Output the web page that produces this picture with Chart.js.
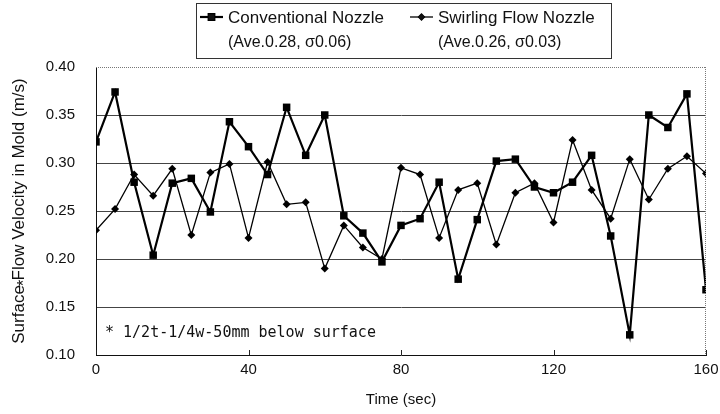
<!DOCTYPE html>
<html>
<head>
<meta charset="utf-8">
<script src="https://cdn.jsdelivr.net/npm/chart.js@4.4.1/dist/chart.umd.min.js"></script>
<style>
    html, body { margin: 0; padding: 0; background: #fff; }
    #box { width: 720px; height: 414px; }
</style>
</head>
<body>
<div id="box"><canvas id="myChart"></canvas></div>
<script>
// tempos de medição (s)
const tempos = [0, 5, 10, 15, 20, 25, 30, 35, 40, 45, 50, 55, 60, 65, 70, 75, 80,
    85, 90, 95, 100, 105, 110, 115, 120, 125, 130, 135, 140, 145, 150, 155, 160];

// velocidade de fluxo (m/s)
const convencional = [0.322, 0.374, 0.280, 0.204, 0.279, 0.284, 0.249, 0.343, 0.317, 0.288,
    0.358, 0.308, 0.350, 0.245, 0.227, 0.197, 0.235, 0.242, 0.280, 0.179, 0.241, 0.302,
    0.304, 0.275, 0.269, 0.280, 0.308, 0.224, 0.121, 0.350, 0.337, 0.372, 0.168];

const swirling = [0.230, 0.252, 0.288, 0.266, 0.294, 0.225, 0.290, 0.299, 0.222, 0.301,
    0.257, 0.259, 0.190, 0.235, 0.212, 0.200, 0.295, 0.288, 0.222, 0.272, 0.279, 0.215,
    0.269, 0.279, 0.238, 0.324, 0.272, 0.242, 0.304, 0.262, 0.294, 0.307, 0.289];

const nomesSeries = ['Conventional Nozzle', 'Swirling Flow Nozzle'];
const estatSeries = ['(Ave.0.28, \u03c30.06)', '(Ave.0.26, \u03c30.03)'];

const ticksX = [0, 40, 80, 120, 160];
const ticksY = [0.10, 0.15, 0.20, 0.25, 0.30, 0.35, 0.40];

const fonte = "'Liberation Sans', Arial, sans-serif";
const tituloY = 'Surface Flow Velocity in Mold (m/s)';

function pontos(valores) {
    let lista = [];
    for (let i = 0; i < tempos.length; i++) {
        lista.push({ x: tempos[i], y: valores[i] });
    }
    return lista;
}

// legenda em caixa, moldura pontilhada e anotação
const extras = {
    id: 'extras',
    afterDraw(chart) {
        const ctx = chart.ctx;
        const area = chart.chartArea;
        const sx = chart.scales.x;
        ctx.save();

        // bordas de cima e da direita pontilhadas
        ctx.strokeStyle = '#777';
        ctx.lineWidth = 1;
        ctx.setLineDash([1, 1]);
        ctx.beginPath();
        ctx.moveTo(area.left, area.top + 0.5);
        ctx.lineTo(area.right, area.top + 0.5);
        ctx.moveTo(area.right - 0.5, area.top);
        ctx.lineTo(area.right - 0.5, area.bottom);
        ctx.stroke();
        ctx.setLineDash([]);

        // marcas pequenas para dentro no eixo x
        ctx.strokeStyle = '#222';
        ctx.beginPath();
        ticksX.forEach((t) => {
            const px = Math.round(sx.getPixelForValue(t)) + 0.5;
            ctx.moveTo(px, area.bottom);
            ctx.lineTo(px, area.bottom - 5);
        });
        ctx.stroke();

        // anotação
        ctx.fillStyle = '#111';
        ctx.font = "15px 'DejaVu Sans Mono', monospace";
        ctx.textBaseline = 'middle';
        ctx.textAlign = 'left';
        ctx.fillText('* 1/2t-1/4w-50mm below surface', area.left + 9, 333);

        // asterisco do título do eixo y, logo depois de "Surface"
        ctx.font = '17px ' + fonte;
        const larguraTotal = ctx.measureText(tituloY).width;
        const larguraPalavra = ctx.measureText('Surface').width;
        const cy = (area.top + area.bottom) / 2;
        const yAst = cy + larguraTotal / 2 - larguraPalavra + 1;
        ctx.translate(33, yAst);
        ctx.rotate(-Math.PI / 2);
        ctx.textBaseline = 'alphabetic';
        ctx.fillText('*', 0, -4);
        ctx.setTransform(1, 0, 0, 1, 0, 0);

        // caixa da legenda
        ctx.strokeStyle = '#333';
        ctx.lineWidth = 1;
        ctx.strokeRect(196.5, 3.5, 415, 55);

        const posX = [200, 410];
        chart.data.datasets.forEach((ds, i) => {
            const x0 = posX[i];
            ctx.strokeStyle = ds.borderColor;
            ctx.lineWidth = ds.borderWidth;
            ctx.beginPath();
            ctx.moveTo(x0, 17);
            ctx.lineTo(x0 + 23, 17);
            ctx.stroke();
            Chart.helpers.drawPoint(ctx, {
                pointStyle: ds.pointStyle,
                radius: ds.pointRadius * 0.75,
                borderWidth: 1,
                rotation: 0
            }, x0 + 11.5, 17);
            ctx.fillStyle = '#111';
            ctx.fill();
            ctx.textBaseline = 'middle';
            ctx.font = '17px ' + fonte;
            ctx.fillText(nomesSeries[i], x0 + 28, 18);
            ctx.font = '16px ' + fonte;
            ctx.fillText(estatSeries[i], x0 + 28, 43);
        });
        ctx.restore();
    }
};

function plotarGrafico() {
    const dados = {
        datasets: [{
            label: nomesSeries[0],
            data: pontos(convencional),
            borderColor: '#000',
            backgroundColor: '#000',
            borderWidth: 2.2,
            pointStyle: 'rect',
            pointRadius: 5.3,
            pointBorderWidth: 0
        }, {
            label: nomesSeries[1],
            data: pontos(swirling),
            borderColor: '#000',
            backgroundColor: '#000',
            borderWidth: 1.3,
            pointStyle: 'rectRot',
            pointRadius: 4,
            pointBorderWidth: 0
        }]
    };

    const config = {
        type: 'line',
        data: dados,
        options: {
            responsive: true,
            maintainAspectRatio: false,
            animation: false,
            layout: { padding: { top: 67, right: 14, bottom: 0, left: 0 } },
            plugins: {
                legend: { display: false },
                tooltip: { enabled: false }
            },
            scales: {
                x: {
                    type: 'linear',
                    min: 0,
                    max: 160,
                    afterBuildTicks: (scale) => {
                        scale.ticks = ticksX.map((v) => ({ value: v }));
                    },
                    afterFit: (scale) => {
                        scale.height = 59;
                        scale.paddingLeft = 0;
                        scale.paddingRight = 0;
                    },
                    grid: { display: true, drawOnChartArea: false, drawTicks: false },
                    border: { color: '#111', width: 1 },
                    ticks: {
                        color: '#111',
                        padding: 6,
                        maxRotation: 0,
                        font: { family: fonte, size: 15 }
                    },
                    title: {
                        display: true,
                        text: 'Time (sec)',
                        color: '#111',
                        padding: { top: 4, bottom: 5 },
                        font: { family: fonte, size: 15 }
                    }
                },
                y: {
                    min: 0.10,
                    max: 0.40,
                    afterBuildTicks: (scale) => {
                        scale.ticks = ticksY.map((v) => ({ value: v }));
                    },
                    afterFit: (scale) => { scale.width = 96; },
                    grid: {
                        drawTicks: false,
                        color: (c) => (c.tick && c.tick.value > 0.11 && c.tick.value < 0.39) ? '#444' : 'rgba(0,0,0,0)'
                    },
                    border: { color: '#111', width: 1 },
                    ticks: {
                        color: '#111',
                        padding: 21,
                        font: { family: fonte, size: 15 },
                        callback: (v) => Number(v).toFixed(2)
                    },
                    title: {
                        display: true,
                        text: tituloY,
                        color: '#111',
                        padding: { top: 9, bottom: 0 },
                        font: { family: fonte, size: 17 }
                    }
                }
            }
        },
        plugins: [extras]
    };

    let myChart = new Chart(document.getElementById('myChart'), config);
}

plotarGrafico();
</script>
</body>
</html>
